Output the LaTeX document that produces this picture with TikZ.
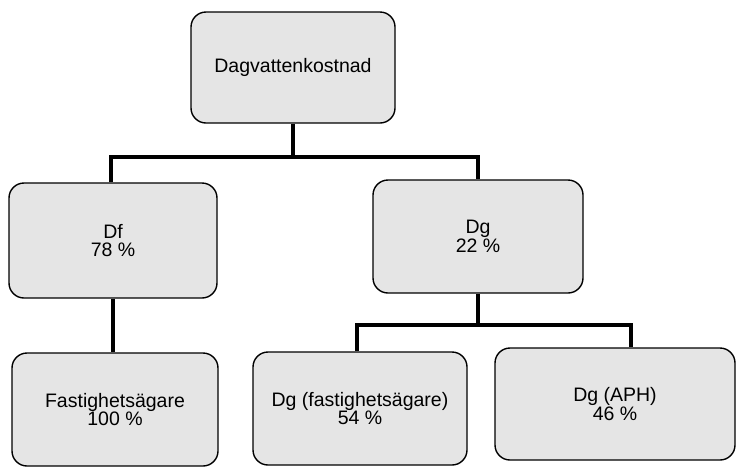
\documentclass[tikz,border=0pt]{standalone}
\usepackage{fontspec}
\setmainfont{Liberation Sans}
\begin{document}
\begin{tikzpicture}[x=1pt,y=-1pt,
  box/.style={draw=black, line width=1.4pt, fill=black!10, rounded corners=15pt,
    inner sep=0pt, align=center, font=\fontsize{19.5}{18.5}\selectfont},
  conn/.style={draw=black, line width=3.4pt}]
\useasboundingbox (0,0) rectangle (736,467);
\node[box, minimum width=204pt, minimum height=111pt] (top) at (293,67.5) {Dagvattenkostnad};
\node[box, minimum width=208pt, minimum height=115pt] (df) at (113,240.5) {Df\\78 \%};
\node[box, minimum width=210pt, minimum height=113pt] (dg) at (478,236.5) {Dg\\22 \%};
\node[box, minimum width=206pt, minimum height=113pt] (fa) at (115,409.5) {Fastighetsägare\\100 \%};
\node[box, minimum width=214pt, minimum height=113pt] (dgf) at (360,408.5) {Dg (fastighetsägare)\\54 \%};
\node[box, minimum width=240pt, minimum height=112pt] (aph) at (615,404) {Dg (APH)\\46 \%};
\coordinate (j1) at (293,157);
\coordinate (j2) at (478,325);
\draw[conn] (top.south) -- (j1);
\draw[conn] ([xshift=-2pt]df.north) |- (j1) -| (dg.north);
\draw[conn] (df.south) -- (df.south |- fa.north);
\draw[conn] (dg.south) -- (j2);
\draw[conn] ([xshift=-3pt]dgf.north) |- (j2) -| ([xshift=16pt]aph.north);
\end{tikzpicture}
\end{document}
